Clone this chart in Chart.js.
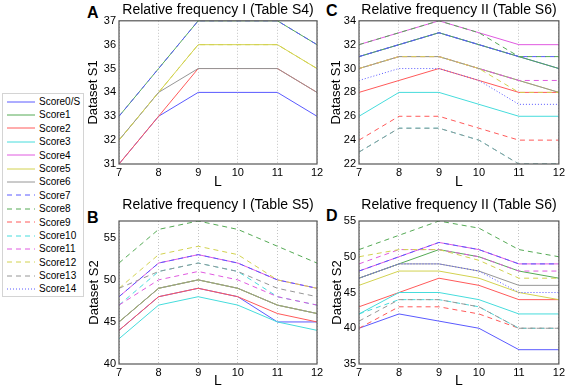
<!DOCTYPE html>
<html><head><meta charset="utf-8">
<script src="https://cdn.jsdelivr.net/npm/chart.js@4/dist/chart.umd.min.js"></script>
<style>
html,body{margin:0;padding:0;background:#fff;width:567px;height:389px;overflow:hidden;font-family:'Liberation Sans',Arial,sans-serif;}
.pc{position:absolute;}
.letter{position:absolute;font-weight:bold;font-size:16px;line-height:16px;color:#000;font-family:'Liberation Sans',Arial,sans-serif;}
#legend{position:absolute;left:2px;top:93px;width:82px;height:204px;box-sizing:border-box;border:1px solid #d4d4d4;padding-top:1px;background:#fff;}
.row{height:13.4px;display:flex;align-items:center;font-size:10px;line-height:13.4px;color:#000;white-space:nowrap;}
.row svg{margin-left:4px;margin-right:4px;flex:none;}
</style></head>
<body>
<div id="legend"></div>
<div class="letter" style="left:87px;top:5px">A</div>
<div class="letter" style="left:87px;top:210px">B</div>
<div class="letter" style="left:326px;top:3px">C</div>
<div class="letter" style="left:326px;top:208px">D</div>
<canvas id="cA" class="pc" style="left:80px;top:0px" width="260" height="195"></canvas>
<canvas id="cC" class="pc" style="left:320px;top:0px" width="247" height="195"></canvas>
<canvas id="cB" class="pc" style="left:80px;top:190px" width="260" height="205"></canvas>
<canvas id="cD" class="pc" style="left:320px;top:190px" width="247" height="205"></canvas>
<script>
// ---- data ----
const L = [7, 8, 9, 10, 11, 12];
const seriesNames = ['Score0/S','Score1','Score2','Score3','Score4','Score5','Score6','Score7','Score8','Score9','Score10','Score11','Score12','Score13','Score14'];

// Relative frequency I (Table S4), Dataset S1  (null = outside the visible range)
const panelA = [
  [31,33,34,34,34,33],
  [33,35,37,37,37,36],
  [31,33,35,35,35,34],
  null,
  null,
  [32,34,36,36,36,35],
  [32,34,35,35,35,34],
  [33,35,37,37,37,36],
  null,
  null,
  null,
  null,
  [32,34,36,36,36,35],
  null,
  null
];
// Relative frequency I (Table S5), Dataset S2
const panelB = [
  [44,48,49,48,45,45],
  [45,49,50,49,47,46],
  [44,48,49,48,46,45],
  [43,47,48,47,45,44],
  [48,52,53,52,50,49],
  [45,49,50,49,47,46],
  [45,49,50,49,47,46],
  [48,52,53,52,50,49],
  [52,56,57,56,54,52],
  null,
  [47,51,52,51,48,47],
  [47,50,51,50,48,47],
  [49,53,54,53,50,49],
  [49,51,52,51,49,48],
  null
];
// Relative frequency II (Table S6), Dataset S1
const panelC = [
  [31,32,33,32,31,30],
  [31,32,33,32,31,30],
  [28,29,30,29,28,28],
  [26,28,28,27,26,26],
  [32,33,34,33,32,32],
  [30,31,31,30,29,28],
  [30,31,31,30,29,28],
  [31,32,33,32,31,31],
  [32,33,34,33,31,31],
  [24,26,26,25,24,24],
  [23,25,25,24,22,22],
  [30,31,31,30,29,29],
  [30,31,31,30,28,28],
  [23,25,25,24,22,22],
  [29,30,30,29,27,27]
];
// Relative frequency II (Table S6), Dataset S2
const panelD = [
  [40,42,41,40,37,37],
  [47,49,51,50,48,47],
  [43,45,47,46,44,44],
  [42,45,45,44,42,42],
  [48,50,52,51,49,49],
  [46,48,48,47,45,44],
  [47,49,49,48,46,46],
  [48,50,52,51,49,49],
  [51,53,55,54,51,50],
  [40,43,43,42,40,40],
  [42,44,44,43,40,40],
  [49,51,51,50,48,48],
  [50,51,51,49.5,47,47],
  [41,44,44,43,40,40],
  [47,49,49,48,45,45]
];
const ticksA = [31,32,33,34,35,36,37];
const ticksB = [40,45,50,55];
const ticksC = [22,24,26,28,30,32,34];
const ticksD = [35,40,45,50,55];

// ---- styles ----
const FF = "'Liberation Sans', Arial, sans-serif";
const palette = ['#5a5aff','#55aa55','#ff5a5a','#46dcdc','#e05ae0','#d2d250','#969696'];
function colorFor(i){ return i === 14 ? palette[0] : palette[i % 7]; }
function dashFor(i){ return i === 14 ? [1,2] : (i >= 7 ? [5,4] : []); }

// legend (HTML)
const leg = document.getElementById('legend');
seriesNames.forEach((n,i)=>{
  const row = document.createElement('div'); row.className='row';
  const d = dashFor(i);
  row.innerHTML = '<svg width="28" height="6"><line x1="0" y1="3" x2="28" y2="3" stroke="'+colorFor(i)+'" stroke-width="1"'+(d.length?' stroke-dasharray="'+d.join(',')+'"':'')+'/></svg><span>'+n+'</span>';
  leg.appendChild(row);
});

const boxPlugin = {
  id:'box',
  afterDatasetsDraw(chart){
    const {ctx, chartArea:a} = chart;
    ctx.save();
    ctx.strokeStyle = '#555';
    ctx.lineWidth = 1.2;
    ctx.strokeRect(a.left, a.top, a.right - a.left, a.bottom - a.top);
    ctx.restore();
  }
};

function makePanel(p){
  const datasets = seriesNames.map((name,i)=>({
    label:name,
    data:p.values[i] || [],
    borderColor:colorFor(i),
    backgroundColor:colorFor(i),
    borderWidth:1,
    borderDash:dashFor(i),
    pointRadius:0,
    fill:false,
    tension:0,
    order:-i
  }));
  new Chart(document.getElementById(p.id), {
    type:'line',
    data:{labels:L, datasets},
    options:{
      responsive:false, animation:false, events:[],
      layout:{padding:{left:0, right:p.padRight, top:0, bottom:0}},
      plugins:{
        legend:{display:false}, tooltip:{enabled:false},
        title:{display:true, text:p.title, fullSize:false, color:'#000',
               font:{family:FF, size:14, weight:'normal'},
               padding:{top:p.tTop, bottom:p.tBot}}
      },
      scales:{
        x:{type:'category', offset:false,
           grid:{display:true, color:'#c4c4c4', lineWidth:1, drawTicks:false},
           border:{display:false, dash:[1,2]},
           ticks:{color:'#000', font:{family:FF, size:11}, padding:2, maxRotation:0, autoSkip:false},
           title:{display:true, text:'L', color:'#000', font:{family:FF, size:14}, padding:{top:0, bottom:p.lBot}},
           afterFit(s){ s.height = 31; }},
        y:{type:'linear', min:p.min, max:p.max,
           grid:{display:false, drawTicks:false},
           border:{display:false},
           afterBuildTicks(s){ s.ticks = p.ticks.map(v=>({value:v})); },
           ticks:{color:'#000', font:{family:FF, size:11}, padding:3},
           title:{display:true, text:p.yTitle, color:'#000', font:{family:FF, size:13}, padding:{top:p.yPad, bottom:0}},
           afterFit(s){ s.width = 39; }}
      }
    },
    plugins:[boxPlugin]
  });
}

makePanel({id:'cA', values:panelA, ticks:ticksA, min:31, max:37, title:'Relative frequency I (Table S4)', yTitle:'Dataset S1', yPad:5.7, tTop:2, tBot:2, padRight:23, lBot:4});
makePanel({id:'cC', values:panelC, ticks:ticksC, min:22, max:34, title:'Relative frequency II (Table S6)', yTitle:'Dataset S1', yPad:9, tTop:2, tBot:2, padRight:7, lBot:4});
makePanel({id:'cB', values:panelB, ticks:ticksB, min:40, max:57, title:'Relative frequency I (Table S5)', yTitle:'Dataset S2', yPad:7, tTop:7, tBot:7.2, padRight:23, lBot:5});
makePanel({id:'cD', values:panelD, ticks:ticksD, min:35, max:55, title:'Relative frequency II (Table S6)', yTitle:'Dataset S2', yPad:10, tTop:7, tBot:7.2, padRight:7, lBot:5});
</script>
</body></html>
